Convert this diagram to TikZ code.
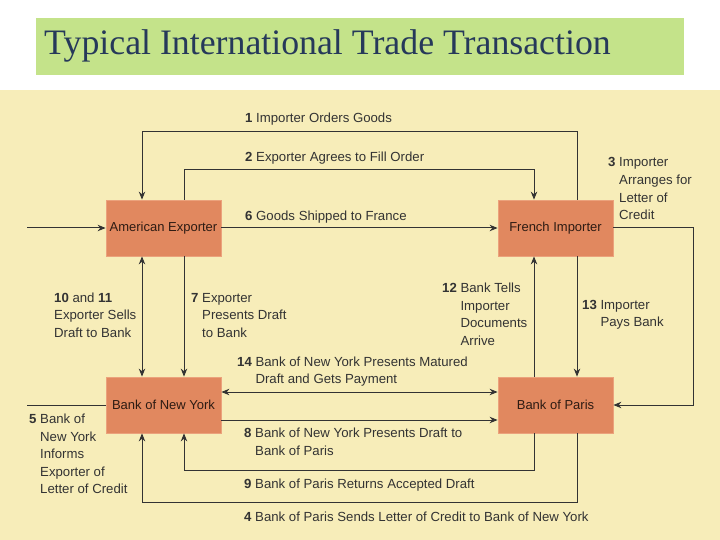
\documentclass[tikz,border=0pt]{standalone}
\usepackage{fontspec}
\setmainfont{Liberation Sans}
\newfontfamily\titlefont{Liberation Serif}
\usetikzlibrary{arrows.meta}
\definecolor{panelc}{HTML}{F7EDB9}
\definecolor{titlec}{HTML}{C4E38A}
\definecolor{titletext}{HTML}{26395A}
\definecolor{boxc}{HTML}{E1885F}
\definecolor{boxedge}{HTML}{EBA27C}
\definecolor{flowc}{HTML}{333333}
\tikzset{
  party/.style={fill=boxc, draw=boxedge, line width=0.8pt, minimum width=115pt, minimum height=56pt, inner sep=0pt, text=black!80!boxc, font=\fontsize{13}{15}\selectfont},
  flow/.style={draw=flowc, line width=1pt},
  arr/.style={-{Stealth[length=8pt,width=6.5pt]}},
  arrboth/.style={{Stealth[length=8pt,width=6.5pt]}-{Stealth[length=8pt,width=6.5pt]}},
  note/.style={anchor=base west, inner sep=0pt, text=black!80, font=\fontsize{13.2}{17.6}\selectfont},
}
\newcommand{\stepnote}[2]{\textbf{#1}\ \begin{tabular}[t]{@{}l@{}}#2\end{tabular}}

\begin{document}
\begin{tikzpicture}[x=1pt,y=-1pt]
\useasboundingbox (0,0) rectangle (720,540);
\fill[white] (0,0) rectangle (720,540);
\fill[titlec] (36,18) rectangle (684,75);
\node[anchor=base west, inner sep=0pt, text=titletext, font=\titlefont\fontsize{35.8}{40}\selectfont] (title) at (44,55) {Typical International Trade Transaction};
\fill[panelc] (0,90) rectangle (720,540);

\node[party] (amexp) at (163.5,228) {American Exporter};
\node[party] (frimp) at (555.5,228) {French Importer};
\node[party] (bny) at (163.5,405) {Bank of New York};
\node[party] (bop) at (555.5,405) {Bank of Paris};
\coordinate (inflow) at (27,228);
\coordinate (outflow) at (27,405);

\draw[flow,arr] ([xshift=21.5pt]frimp.north) -- ++(0,-68) -| ([xshift=-21.5pt]amexp.north);
\draw[flow,arr] ([xshift=20.5pt]amexp.north) -- ++(0,-30) -| ([xshift=-21.5pt]frimp.north);
\draw[flow,arr] (inflow) -- (amexp.west);
\draw[flow,arr] (amexp.east) -- (frimp.west);
\draw[flow,arr] (frimp.east) -- ++(80,0) |- (bop.east);
\draw[flow,arr] ([xshift=21.5pt]frimp.south) -- ([xshift=21.5pt]bop.north);
\draw[flow,arr] ([xshift=-21.5pt]bop.north) -- ([xshift=-21.5pt]frimp.south);
\draw[flow,arrboth] ([xshift=-21.5pt]amexp.south) -- ([xshift=-21.5pt]bny.north);
\draw[flow,arr] ([xshift=20.5pt]amexp.south) -- ([xshift=20.5pt]bny.north);
\draw[flow,arrboth] ([yshift=13pt]bny.east) -- ([yshift=13pt]bop.west);
\draw[flow,arr] ([yshift=-15pt]bny.east) -- ([yshift=-15pt]bop.west);
\draw[flow,arr] ([xshift=-21.5pt]bop.south) -- ++(0,37) -| ([xshift=20.5pt]bny.south);
\draw[flow,arr] ([xshift=21.5pt]bop.south) -- ++(0,69) -| ([xshift=-21.5pt]bny.south);
\draw[flow] (bny.west) -- (outflow);

\node[note] (n1) at (245,123) {\stepnote{1}{Importer Orders Goods}};
\node[note] (n2) at (245,162) {\stepnote{2}{Exporter Agrees to Fill Order}};
\node[note] (n3) at (608,167) {\stepnote{3}{Importer\\Arranges for\\Letter of\\Credit}};
\node[note] (n6) at (245,221) {\stepnote{6}{Goods Shipped to France}};
\node[note] (n10) at (54,302) {\begin{tabular}[t]{@{}l@{}}\textbf{10} and \textbf{11}\\Exporter Sells\\Draft to Bank\end{tabular}};
\node[note] (n7) at (191,302) {\stepnote{7}{Exporter\\Presents Draft\\to Bank}};
\node[note] (n12) at (442,292.5) {\stepnote{12}{Bank Tells\\Importer\\Documents\\Arrive}};
\node[note] (n13) at (582,309) {\stepnote{13}{Importer\\Pays Bank}};
\node[note] (n14) at (237,366) {\stepnote{14}{Bank of New York Presents Matured\\Draft and Gets Payment}};
\node[note] (n5) at (29,423.5) {\stepnote{5}{Bank of\\New York\\Informs\\Exporter of\\Letter of Credit}};
\node[note] (n8) at (244,437.5) {\stepnote{8}{Bank of New York Presents Draft to\\Bank of Paris}};
\node[note] (n9) at (244,488.5) {\stepnote{9}{Bank of Paris Returns Accepted Draft}};
\node[note] (n4) at (244,521) {\stepnote{4}{Bank of Paris Sends Letter of Credit to Bank of New York}};
\end{tikzpicture}
\end{document}
